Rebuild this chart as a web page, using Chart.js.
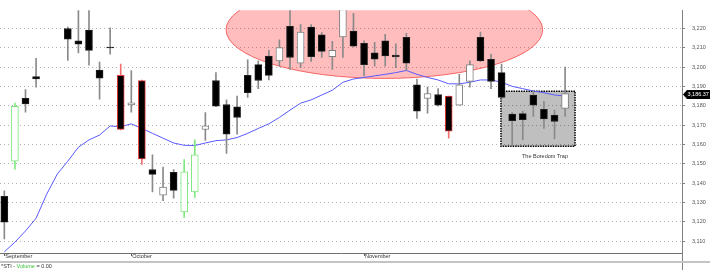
<!DOCTYPE html>
<html>
<head>
<meta charset="utf-8">
<script src="https://cdn.jsdelivr.net/npm/chart.js@4.4.0/dist/chart.umd.min.js"></script>
<style>
  html, body { margin: 0; padding: 0; background: #fff; }
  #wrap { width: 710px; height: 270px; }
</style>
</head>
<body>
<div id="wrap"><canvas id="stiChart" width="710" height="270"></canvas></div>
<script>
// daily STI candles, one slot per trading day (4 and 5 ran above the visible range)
const opens  = [3133.2, 3151.4, 3183.9, 3195.2, null, null, 3220.0, 3213.7, 3219.2, 3198.5,
                3210.4, 3195.8, 3180.5, 3193.1, 3147.1, 3133.8, 3145.6, 3125.2, 3135.5, 3167.8,
                3193.1, 3180.7, 3179.5, 3195.8, 3201.3, 3205.8, 3203.3, 3221.1, 3202.1, 3220.8,
                3216.7, 3205.5, 3215.7, 3218.7, 3212.4, 3207.4, 3213.7, 3206.3, 3215.4, 3190.9,
                3183.9, 3185.9, 3185.1, 3180.3, 3192.7, 3215.4, 3204.1, 3197.2, 3175.7, 3176.0,
                3185.6, 3178.2, 3175.2, 3178.7]
const highs  = [3136.0, 3181.4, 3188.4, 3204.6, null, null, 3220.8, 3232.0, 3232.0, 3202.6,
                3220.3, 3201.6, 3198.3, 3193.3, 3154.7, 3148.4, 3147.1, 3152.2, 3162.4, 3176.5,
                3197.2, 3183.1, 3185.1, 3203.8, 3203.3, 3208.7, 3214.2, 3232.0, 3222.0, 3222.0,
                3217.9, 3213.4, 3235.0, 3227.8, 3213.7, 3212.9, 3217.0, 3212.1, 3217.5, 3193.9,
                3189.7, 3188.9, 3185.1, 3196.3, 3203.3, 3218.2, 3206.8, 3201.6, 3176.5, 3177.3,
                3187.7, 3182.3, 3177.8, 3200.0]
const lows   = [3111.2, 3147.2, 3176.8, 3189.7, null, null, 3203.5, 3207.4, 3201.0, 3183.4,
                3206.8, 3167.6, 3176.8, 3149.7, 3135.5, 3131.0, 3132.3, 3122.3, 3132.7, 3162.1,
                3179.6, 3155.4, 3165.3, 3184.4, 3188.9, 3193.4, 3200.5, 3198.8, 3199.7, 3203.0,
                3205.0, 3198.8, 3205.0, 3210.5, 3195.5, 3200.5, 3200.5, 3199.7, 3198.3, 3173.5,
                3176.2, 3179.8, 3163.3, 3180.3, 3189.7, 3203.0, 3188.9, 3184.0, 3159.1, 3162.4,
                3174.5, 3168.3, 3162.9, 3174.5]
const closes = [3119.9, 3179.8, 3181.0, 3193.9, null, null, 3214.5, 3211.9, 3208.7, 3194.3,
                3210.0, 3167.8, 3181.6, 3152.5, 3144.6, 3138.0, 3136.3, 3145.9, 3154.7, 3169.7,
                3179.8, 3165.3, 3174.0, 3186.8, 3193.1, 3195.8, 3210.1, 3205.0, 3218.2, 3205.5,
                3208.2, 3208.7, 3232.0, 3210.9, 3201.3, 3204.1, 3205.8, 3205.3, 3202.1, 3177.3,
                3186.4, 3180.3, 3166.9, 3190.9, 3201.3, 3203.3, 3192.6, 3184.4, 3172.4, 3172.9,
                3180.3, 3173.2, 3171.9, 3186.37]
const movingAvg = [3104.5, 3109.5, 3115.3, 3121.9, 3134.3, 3144.7, 3151.4, 3158.6, 3162.4, 3164.9,
                   3169.6, 3169.2, 3170.7, 3168.3, 3165.8, 3163.3, 3160.8, 3159.6, 3159.5, 3160.8,
                   3162.0, 3162.4, 3163.6, 3165.8, 3168.3, 3170.7, 3174.0, 3177.8, 3181.4, 3183.1,
                   3185.6, 3188.1, 3192.2, 3193.9, 3194.7, 3195.5, 3196.3, 3197.2, 3198.3, 3196.3,
                   3194.7, 3193.4, 3191.4, 3191.4, 3192.2, 3193.4, 3193.4, 3192.2, 3190.1, 3188.9,
                   3187.7, 3186.8, 3185.6, 3185.1]
const greenCandles = [1, 17, 18]
const redCandles = [11, 13, 42]
const monthTicks = [0, 12, 34]
const monthLabels = ['September', 'October', 'November']
const yTicks = [3110, 3120, 3130, 3140, 3150, 3160, 3170, 3180, 3190, 3200, 3210, 3220]
const lastClose = 3186.37

// annotation zones, in data units (day index / price)
const topZone = { xMin: 20.96, xMax: 50.88, yMin: 3194.2, yMax: 3244.5 }
const trapZone = { xMin: 46.94, xMax: 53.94, yMin: 3159.1, yMax: 3187.6 }
const trapLabel = { x: 51.1, y: 3154.0, text: 'The Boredom Trap' }

const FONT = 'Liberation Sans, Arial, sans-serif'

let bodyData = [], wickData = [], bodyFill = [], bodyEdge = [], wickColor = []
for (let i = 0; i < opens.length; i++) {
    if (opens[i] === null) continue;
    bodyData.push({ x: i, y: [opens[i], closes[i]] });
    wickData.push({ x: i, y: [lows[i], highs[i]] });
    const up = closes[i] > opens[i];
    if (greenCandles.includes(i)) {
        bodyFill.push('#ffffff'); bodyEdge.push('#7ee87e'); wickColor.push('#7ee87e');
    } else if (redCandles.includes(i)) {
        bodyFill.push('#000000'); bodyEdge.push('#e83a3a'); wickColor.push('#f07070');
    } else if (up) {
        bodyFill.push('#ffffff'); bodyEdge.push('#808080'); wickColor.push('#8a8a8a');
    } else {
        bodyFill.push('#000000'); bodyEdge.push('#202020'); wickColor.push('#8a8a8a');
    }
}
const maData = movingAvg.map((v, i) => ({ x: i, y: v }))

const zonesPlugin = {
    id: 'zones',
    beforeDatasetsDraw(chart) {
        const { ctx, chartArea: a, scales: { x, y } } = chart;
        ctx.save();
        ctx.beginPath();
        ctx.rect(a.left, a.top, a.right - a.left, a.bottom - a.top);
        ctx.clip();

        const x1 = x.getPixelForValue(topZone.xMin), x2 = x.getPixelForValue(topZone.xMax);
        const y1 = y.getPixelForValue(topZone.yMax), y2 = y.getPixelForValue(topZone.yMin);
        ctx.beginPath();
        ctx.ellipse((x1 + x2) / 2, (y1 + y2) / 2, (x2 - x1) / 2, (y2 - y1) / 2, 0, 0, Math.PI * 2);
        ctx.fillStyle = 'rgba(255, 0, 0, 0.26)';
        ctx.fill();
        ctx.strokeStyle = 'rgba(245, 80, 80, 0.85)';
        ctx.lineWidth = 1;
        ctx.stroke();

        const bx1 = x.getPixelForValue(trapZone.xMin), bx2 = x.getPixelForValue(trapZone.xMax);
        const by1 = y.getPixelForValue(trapZone.yMax), by2 = y.getPixelForValue(trapZone.yMin);
        ctx.fillStyle = 'rgba(0, 0, 0, 0.25)';
        ctx.fillRect(bx1, by1, bx2 - bx1, by2 - by1);
        ctx.setLineDash([1.5, 1]);
        ctx.strokeStyle = '#000';
        ctx.lineWidth = 1.5;
        ctx.strokeRect(bx1, by1, bx2 - bx1, by2 - by1);
        ctx.setLineDash([]);

        ctx.fillStyle = '#333';
        ctx.font = '5.5px ' + FONT;
        ctx.textAlign = 'center';
        ctx.textBaseline = 'middle';
        ctx.fillText(trapLabel.text, x.getPixelForValue(trapLabel.x), y.getPixelForValue(trapLabel.y));
        ctx.restore();
    },
    afterDraw(chart) {
        const { ctx, chartArea: a, scales: { y } } = chart;
        const W = chart.width, H = chart.height;
        ctx.save();
        // axis line carries on down through the volume strip
        ctx.strokeStyle = '#808080';
        ctx.lineWidth = 1;
        ctx.beginPath();
        ctx.moveTo(a.right + 0.5, a.bottom);
        ctx.lineTo(a.right + 0.5, H);
        ctx.stroke();
        ctx.strokeStyle = '#c4c4c4';
        ctx.lineWidth = 2;
        ctx.beginPath();
        ctx.moveTo(0, 262);
        ctx.lineTo(W, 262);
        ctx.stroke();

        ctx.font = '5.5px ' + FONT;
        ctx.textBaseline = 'middle';
        ctx.textAlign = 'left';
        let tx = 1;
        const parts = [['*STI - ', '#333'], ['Volume', '#3cc43c'], [' = 0.00', '#333']];
        parts.forEach(p => {
            ctx.fillStyle = p[1];
            ctx.fillText(p[0], tx, 266.5);
            tx += ctx.measureText(p[0]).width;
        });

        // last price tag
        const py = Math.round(y.getPixelForValue(lastClose)) + 0.5;
        ctx.fillStyle = '#000';
        ctx.beginPath();
        ctx.moveTo(a.right + 1, py);
        ctx.lineTo(a.right + 5, py - 4.5);
        ctx.lineTo(W, py - 4.5);
        ctx.lineTo(W, py + 4.5);
        ctx.lineTo(a.right + 5, py + 4.5);
        ctx.closePath();
        ctx.fill();
        ctx.fillStyle = '#fff';
        ctx.fillText(lastClose.toLocaleString('en-US', { minimumFractionDigits: 2 }), a.right + 5.5, py);
        ctx.restore();
    }
};

Chart.defaults.font.family = FONT;
Chart.defaults.font.size = 5.5;
Chart.defaults.color = '#444';

new Chart(document.getElementById('stiChart'), {
    data: {
        datasets: [
            {
                type: 'bar', label: 'body', data: bodyData,
                backgroundColor: bodyFill, borderColor: bodyEdge, borderWidth: 1,
                borderSkipped: false, barThickness: 7, grouped: false, order: 0
            },
            {
                type: 'bar', label: 'wick', data: wickData,
                backgroundColor: wickColor, borderWidth: 0,
                barThickness: 1, grouped: false, order: 1
            },
            {
                type: 'line', label: 'MA', data: maData,
                borderColor: '#5a5aff', borderWidth: 1, pointRadius: 0, tension: 0, order: 2
            }
        ]
    },
    options: {
        responsive: false,
        maintainAspectRatio: false,
        animation: false,
        devicePixelRatio: 1,
        layout: { padding: 0 },
        plugins: { legend: { display: false }, tooltip: { enabled: false } },
        scales: {
            x: {
                type: 'linear', min: -0.41, max: 64.05, offset: false,
                afterBuildTicks: scale => { scale.ticks = monthTicks.map(v => ({ value: v })) },
                afterFit: scale => { scale.height = 17 },
                ticks: {
                    align: 'start', padding: -3, labelOffset: 1, maxRotation: 0, autoSkip: false,
                    color: '#333',
                    callback: v => monthLabels[monthTicks.indexOf(v)]
                },
                grid: {
                    offset: false, drawOnChartArea: false, drawTicks: true,
                    tickLength: 3, tickColor: '#606060'
                },
                border: { color: '#707070' }
            },
            y: {
                type: 'linear', position: 'right', min: 3103.9, max: 3229.43, offset: false,
                beginAtZero: false,
                afterBuildTicks: scale => { scale.ticks = yTicks.map(v => ({ value: v })) },
                afterFit: scale => { scale.width = 28 },
                ticks: { padding: 7, color: '#555', callback: v => v.toLocaleString('en-US') },
                grid: { offset: false, color: '#b0b0b0', tickLength: 3, tickColor: '#808080', tickBorderDash: [] },
                border: { color: '#808080', dash: [1, 3] }
            }
        }
    },
    plugins: [zonesPlugin]
});
</script>
</body>
</html>
